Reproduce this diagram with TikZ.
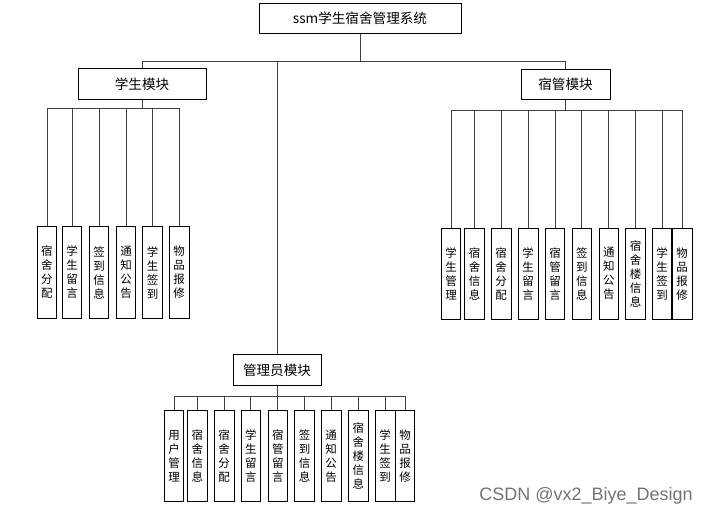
\documentclass[tikz,border=0pt]{standalone}
\usepackage{fontspec}
\newfontfamily\cjk{Noto Sans CJK SC}
\newfontfamily\markfont{Liberation Sans}
\usetikzlibrary{positioning}
\tikzset{
  head/.style={draw=black,line width=0.9pt,fill=white,inner sep=0pt,minimum height=30.5pt,font=\cjk\fontsize{13.6}{15}\selectfont},
  leaf/.style={draw=black,line width=0.9pt,fill=white,inner sep=0pt,minimum width=19.6pt,minimum height=91.2pt,align=center,font=\cjk\fontsize{11.5}{14}\selectfont},
  link/.style={draw=black!75,line width=0.9pt}
}

\begin{document}
\begin{tikzpicture}[x=1pt,y=-1pt]
\useasboundingbox (0,0) rectangle (710,516);
\node[head,minimum width=202pt] (sys) at (360,18.3) {ssm学生宿舍管理系统};
\node[head,minimum width=128pt] (stu) at (142,84) {学生模块};
\node[head,minimum width=89pt] (dorm) at (565.5,84.7) {宿管模块};
\node[head,minimum width=88pt] (adm) at (277,370) {管理员模块};
\coordinate (bus) at (360,61);
\draw[link] (sys.south) -- (bus);
\draw[link] (bus) -| (stu.north);
\draw[link] (bus) -| (dorm.north);
\draw[link] (bus) -| (adm.north);
% student module
\foreach \x/\lab [count=\i] in {47/{宿\\舍\\分\\配},72/{学\\生\\留\\言},99/{签\\到\\信\\息},126/{通\\知\\公\\告},152.5/{学\\生\\签\\到},179.2/{物\\品\\报\\修}} {
 \node[leaf] (s\i) at (\x,272.5) {\lab};
 \draw[link] (stu.south) -- ++(0,9) -| (s\i.north);
}
% dorm manager module
\foreach \x/\lab [count=\i] in {451/{学\\生\\管\\理},474.5/{宿\\舍\\信\\息},501.2/{宿\\舍\\分\\配},528.2/{学\\生\\留\\言},555/{宿\\管\\留\\言},581.9/{签\\到\\信\\息},608.9/{通\\知\\公\\告},635.5/{宿\\舍\\楼\\信\\息},662/{学\\生\\签\\到},682.2/{物\\品\\报\\修}} {
 \node[leaf] (d\i) at (\x,273.8) {\lab};
 \draw[link] (dorm.south) -- ++(0,9.8) -| (d\i.north);
}
% admin module
\foreach \x/\lab [count=\i] in {174/{用\\户\\管\\理},197.3/{宿\\舍\\信\\息},224.2/{宿\\舍\\分\\配},250.8/{学\\生\\留\\言},277.8/{宿\\管\\留\\言},304.5/{签\\到\\信\\息},331.2/{通\\知\\公\\告},358.3/{宿\\舍\\楼\\信\\息},385.2/{学\\生\\签\\到},405/{物\\品\\报\\修}} {
 \node[leaf] (a\i) at (\x,456) {\lab};
 \draw[link] (adm.south) -- ++(0,10.5) -| (a\i.north);
}
\node[font=\markfont\fontsize{18}{20}\selectfont,text=black!55,inner sep=0pt] (mark) at (586,496) {CSDN @vx2\_Biye\_Design};
\end{tikzpicture}
\end{document}
